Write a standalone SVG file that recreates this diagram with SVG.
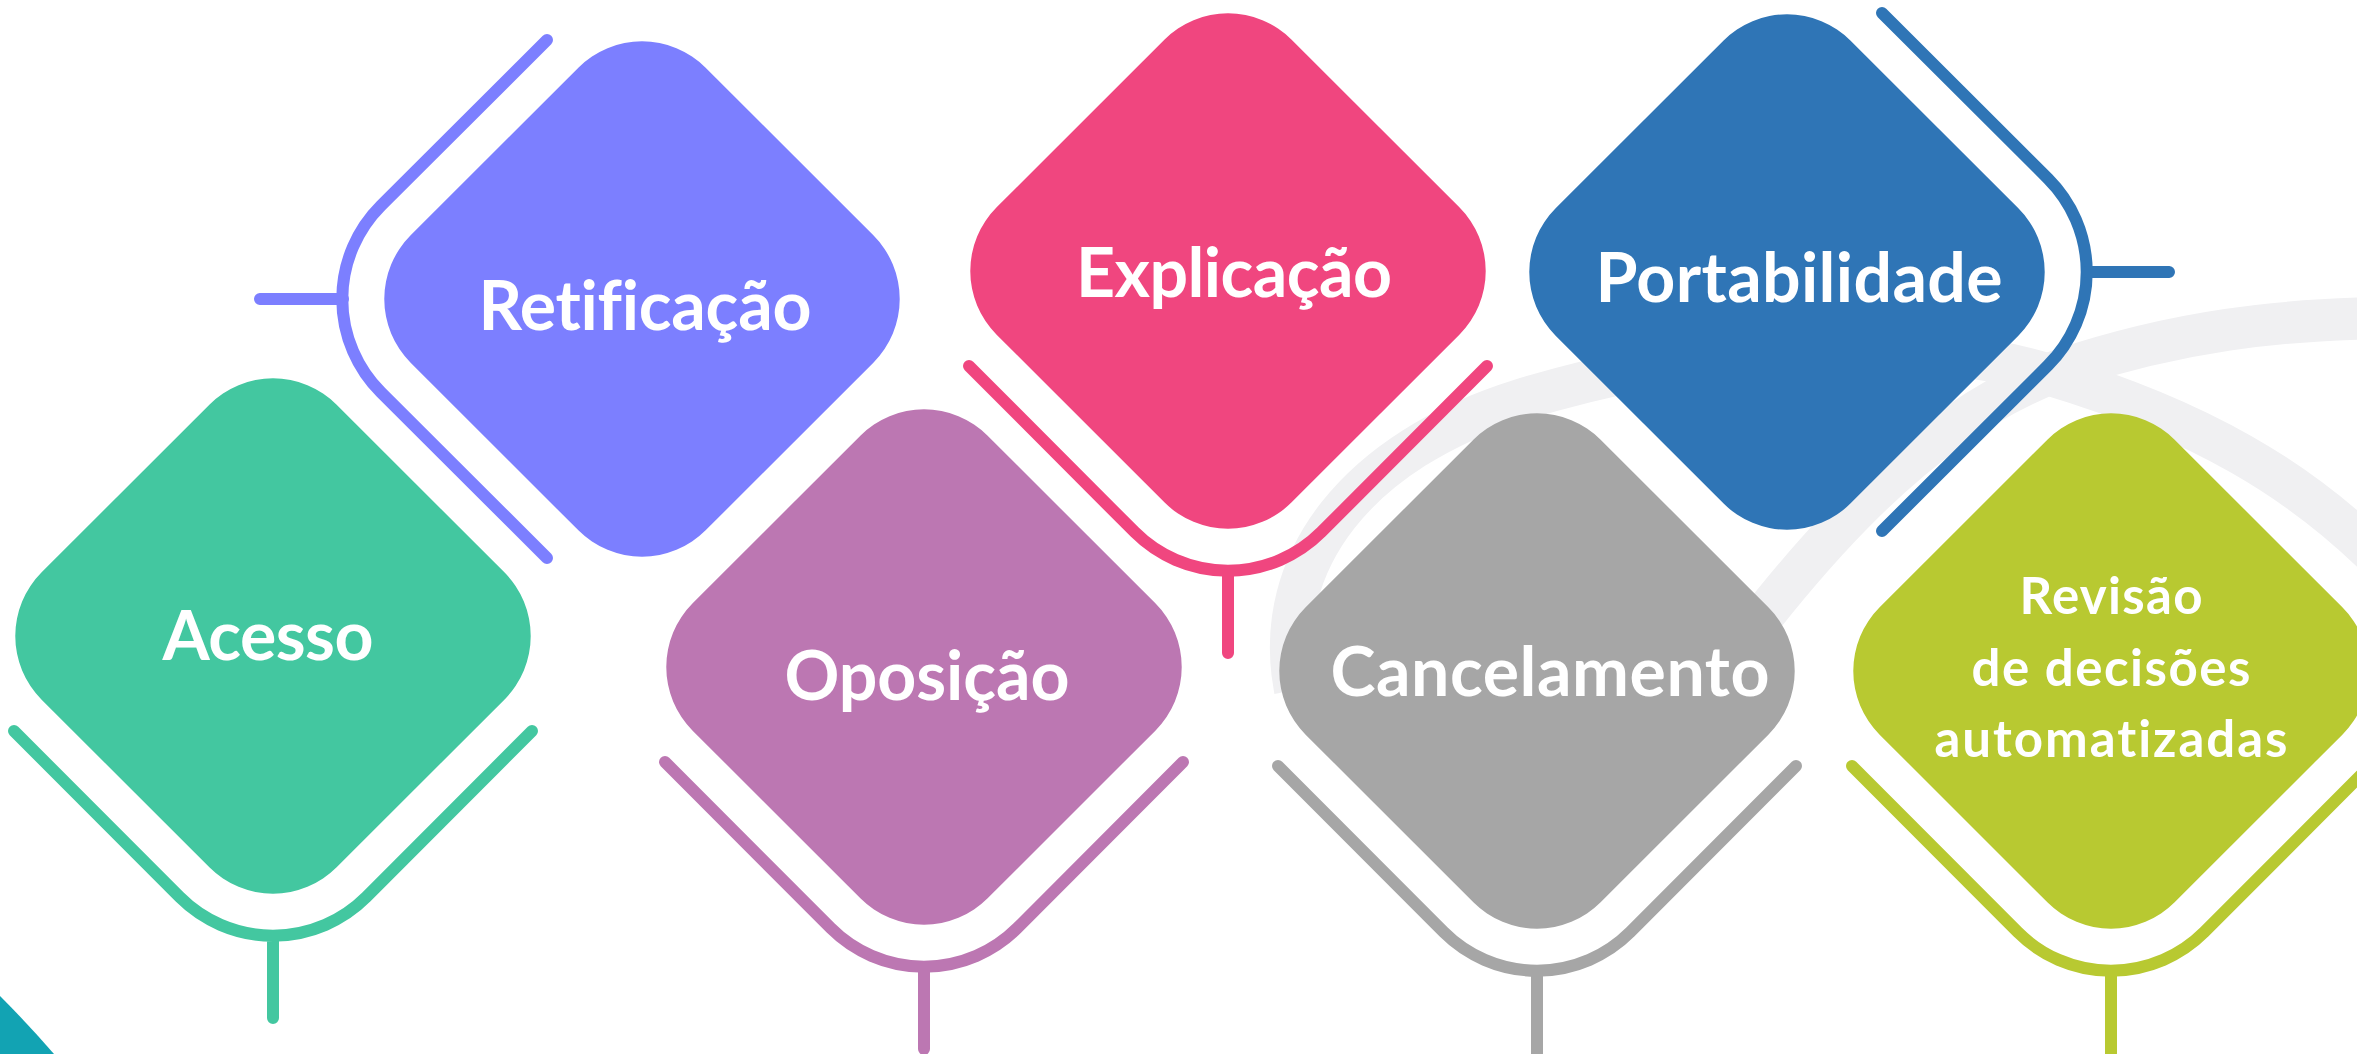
<svg xmlns="http://www.w3.org/2000/svg" xmlns:xlink="http://www.w3.org/1999/xlink" width="2357" height="1054" viewBox="0 0 2357 1054">
<style>
.lbl{font-family:Lato,"Open Sans","Liberation Sans",sans-serif;font-weight:700;fill:#fff;text-anchor:middle;font-variant-ligatures:none;font-feature-settings:"liga" 0,"dlig" 0}
.big{font-size:68px}
.small{font-size:51px}
.br{fill:none;stroke-width:12;stroke-linecap:round;stroke-linejoin:round}
.ring{fill:none;stroke:#F0F0F2;stroke-width:42}
</style>
<defs>
<path id="dia" d="M -231.36,63.64 A 90 90 0 0 1 -231.36,-63.64 L -63.64,-231.36 A 90 90 0 0 1 63.64,-231.36 L 231.36,-63.64 A 90 90 0 0 1 231.36,63.64 L 63.64,231.36 A 90 90 0 0 1 -63.64,231.36 Z"/>
<path id="brk" d="M -259,95 L -93.3,261.1 A 132 132 0 0 0 93.3,261.1 L 259,95 M 0,300 V 382"/>
</defs>
<rect width="2357" height="1054" fill="#fff"/>
<g id="background">
<path class="ring" d="M 1295,690 C 1270,560 1360,450 1520,400 C 1700,345 1900,330 2050,375 C 2200,420 2300,480 2380,560"/>
<path class="ring" d="M 1700,700 C 1800,560 1920,420 2060,370 C 2180,330 2280,320 2380,318"/>
<path d="M0,996 Q28,1024 54,1054 L0,1054 Z" fill="#12A3B3"/>
</g>
<g id="connectors">
<use href="#brk" class="br" stroke="#43C7A0" transform="translate(273,636)"/>
<use href="#brk" class="br" stroke="#7C7FFF" transform="translate(642,299) rotate(90)"/>
<line x1="343" y1="299" x2="262" y2="299" class="br" stroke="#7C7FFF"/>
<use href="#brk" class="br" stroke="#F0467F" transform="translate(1228,271)"/>
<use href="#brk" class="br" stroke="#2F75B6" transform="translate(1787,272) rotate(-90)"/>
<line x1="2087" y1="272" x2="2167" y2="272" class="br" stroke="#2F75B6"/>
<use href="#brk" class="br" stroke="#BC77B2" transform="translate(924,667)"/>
<use href="#brk" class="br" stroke="#A6A6A6" transform="translate(1537,671)"/>
<use href="#brk" class="br" stroke="#B8C931" transform="translate(2111,671)"/>
</g>
<g id="node-acesso">
<use href="#dia" fill="#43C7A0" transform="translate(273,636)"/>
<text class="lbl big" x="268" y="660" textLength="211">Acesso</text>
</g>
<g id="node-retificacao">
<use href="#dia" fill="#7C7FFF" transform="translate(642,299)"/>
<text class="lbl big" x="645" y="330" textLength="333">Retificação</text>
</g>
<g id="node-explicacao">
<use href="#dia" fill="#F0467F" transform="translate(1228,271)"/>
<text class="lbl big" x="1234" y="297" textLength="316">Explicação</text>
</g>
<g id="node-portabilidade">
<use href="#dia" fill="#2F75B6" transform="translate(1787,272)"/>
<text class="lbl big" x="1799" y="302" textLength="407">Portabilidade</text>
</g>
<g id="node-oposicao">
<use href="#dia" fill="#BC77B2" transform="translate(924,667)"/>
<text class="lbl big" x="927" y="700" textLength="285">Oposição</text>
</g>
<g id="node-cancelamento">
<use href="#dia" fill="#A6A6A6" transform="translate(1537,671)"/>
<text class="lbl big" x="1550" y="696" textLength="439">Cancelamento</text>
</g>
<g id="node-revisao">
<use href="#dia" fill="#B8C931" transform="translate(2111,671)"/>
<text class="lbl small" x="2111" y="614" textLength="183">Revisão</text>
<text class="lbl small" x="2111" y="686" textLength="279">de decisões</text>
<text class="lbl small" x="2111" y="757" textLength="353">automatizadas</text>
</g>
</svg>
